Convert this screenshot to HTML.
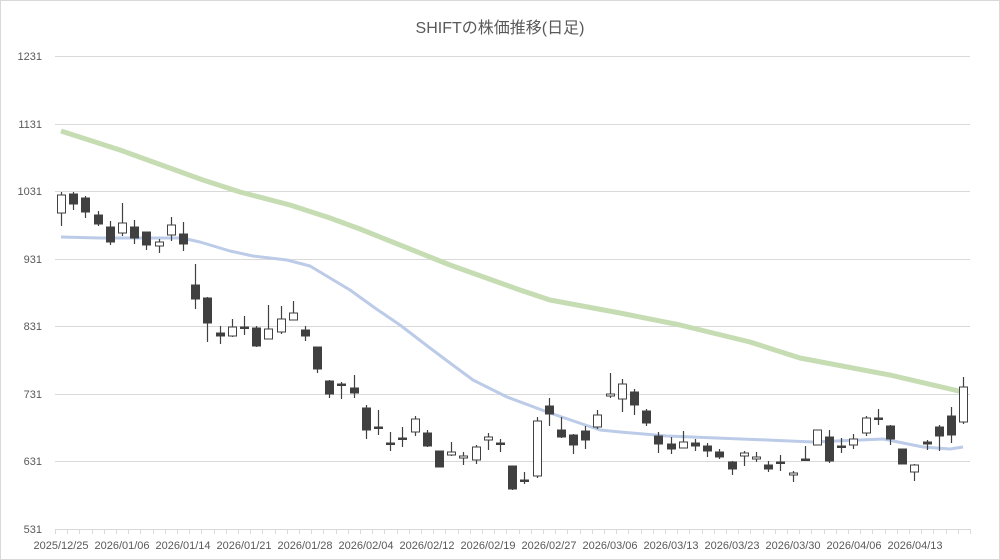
<!DOCTYPE html>
<html><head><meta charset="utf-8"><style>
html,body{margin:0;padding:0;background:#fff}
svg{display:block}
text{font-family:"Liberation Sans","Noto Sans CJK JP",sans-serif;fill:#595959}
</style></head><body>
<svg id="c" width="1000" height="560" viewBox="0 0 1000 560" xmlns="http://www.w3.org/2000/svg">
<rect x="0.5" y="0.5" width="999" height="559" fill="#fff" stroke="#d9d9d9"/>
<text x="500" y="33" font-size="16" text-anchor="middle">SHIFTの株価推移(日足)</text>
<g stroke="#d9d9d9" stroke-width="1">
<line x1="55" y1="56.5" x2="970" y2="56.5"/>
<line x1="55" y1="124.5" x2="970" y2="124.5"/>
<line x1="55" y1="191.5" x2="970" y2="191.5"/>
<line x1="55" y1="259.5" x2="970" y2="259.5"/>
<line x1="55" y1="326.5" x2="970" y2="326.5"/>
<line x1="55" y1="394.5" x2="970" y2="394.5"/>
<line x1="55" y1="461.5" x2="970" y2="461.5"/>
<line x1="55" y1="529.5" x2="970" y2="529.5"/>
</g>
<g font-size="11" text-anchor="end">
<text x="42" y="60">1231</text>
<text x="42" y="128">1131</text>
<text x="42" y="195">1031</text>
<text x="42" y="263">931</text>
<text x="42" y="330">831</text>
<text x="42" y="398">731</text>
<text x="42" y="465">631</text>
<text x="42" y="533">531</text>
</g>
<g font-size="11" text-anchor="middle">
<text x="61" y="549">2025/12/25</text>
<text x="122" y="549">2026/01/06</text>
<text x="183" y="549">2026/01/14</text>
<text x="244" y="549">2026/01/21</text>
<text x="305" y="549">2026/01/28</text>
<text x="366" y="549">2026/02/04</text>
<text x="427" y="549">2026/02/12</text>
<text x="488" y="549">2026/02/19</text>
<text x="549" y="549">2026/02/27</text>
<text x="610" y="549">2026/03/06</text>
<text x="671" y="549">2026/03/13</text>
<text x="732" y="549">2026/03/23</text>
<text x="793" y="549">2026/03/30</text>
<text x="854" y="549">2026/04/06</text>
<text x="915" y="549">2026/04/13</text>
</g>
<g id="ticks" stroke="#d9d9d9"></g>
<polyline fill="none" stroke="#c6dcb3" stroke-width="5" stroke-linejoin="round" points="61,131 120,150 203,180 240,192 290,205 330,218 360,229 400,245 450,265 520,290 550,300 620,313 680,325 750,342 800,358 890,375 963,392"/>
<polyline fill="none" stroke="#bccbe8" stroke-width="3" stroke-linejoin="round" points="61,237 100,238 182,238 200,242 230,251 253,256 287,260 310,266 330,278 350,290 375,308 400,325 430,348 450,363 473,380 507,397 550,413 600,430 620,432 667,436 767,440 813,442 883,439 923,447 950,449 963,447"/>
<g id="candles"></g>
</svg>
<script>
var d=[[1,195,213,192,226],[0,194,204,192,210],[0,198,212,196,218],[0,215,224,211,226],[0,227,242,221,245],[1,223,233,203,236],[0,227,238,220,244],[0,232,245,232,250],[1,242,246,239,253],[1,225,235,217,241],[0,234,244,222,251],[0,285,299,264,309],[0,298,323,297,342],[0,333,336,326,344],[1,327,336,319,337],[0,327,328,316,335],[0,328,346,326,347],[1,329,339,305,339],[1,319,332,306,334],[1,313,320,301,320],[0,330,336,326,341],[0,347,369,347,373],[0,381,394,380,398],[0,384,385,382,399],[0,388,393,375,398],[0,408,430,405,439],[0,427,428,410,435],[0,443,444,432,451],[0,438,439,427,447],[1,419,432,416,436],[0,433,446,430,447],[0,451,467,451,467],[1,452,455,442,456],[1,456,458,452,465],[1,447,460,445,464],[1,437,440,433,450],[0,443,444,439,452],[0,466,489,466,490],[0,480,481,472,484],[1,421,476,417,478],[0,406,414,398,426],[0,430,437,417,438],[0,435,445,434,454],[0,431,440,426,449],[1,415,427,410,429],[1,394,396,373,398],[1,384,399,379,412],[0,392,405,389,415],[0,411,423,409,426],[0,436,444,432,453],[0,444,449,437,454],[1,442,448,431,448],[0,443,446,439,451],[0,446,451,443,457],[0,452,457,449,459],[0,462,469,461,475],[1,453,456,451,466],[1,457,459,452,462],[0,465,469,461,472],[0,462,463,455,471],[1,473,475,471,482],[0,459,460,446,460],[1,430,445,430,445],[0,437,461,430,463],[0,446,447,438,453],[1,439,445,434,449],[1,418,433,416,436],[0,418,419,409,425],[0,426,439,425,445],[0,449,464,449,464],[1,465,472,464,481],[0,442,444,440,450],[0,427,436,425,451],[0,416,435,407,443],[1,387,422,377,424]];
var ns="http://www.w3.org/2000/svg",g=document.getElementById('candles'),t=document.getElementById('ticks');
function el(n,a,p){var e=document.createElementNS(ns,n);for(var k in a)e.setAttribute(k,a[k]);p.appendChild(e);}
for(var k=0;k<=75;k++){var x=Math.round(55+12.2*k)+0.5;el('line',{x1:x,x2:x,y1:529,y2:534},t);}
d.forEach(function(c,i){var x=Math.round(61.1+12.19*i)+0.5;
el('line',{x1:x,x2:x,y1:c[3],y2:c[4],stroke:'#404040','stroke-width':1.2},g);
var h=Math.max(c[2]-c[1],1.5);
el('rect',{x:x-4,y:c[1],width:8,height:h,fill:c[0]?'#fff':'#404040',stroke:'#404040','stroke-width':1},g);});
</script>
</body></html>
